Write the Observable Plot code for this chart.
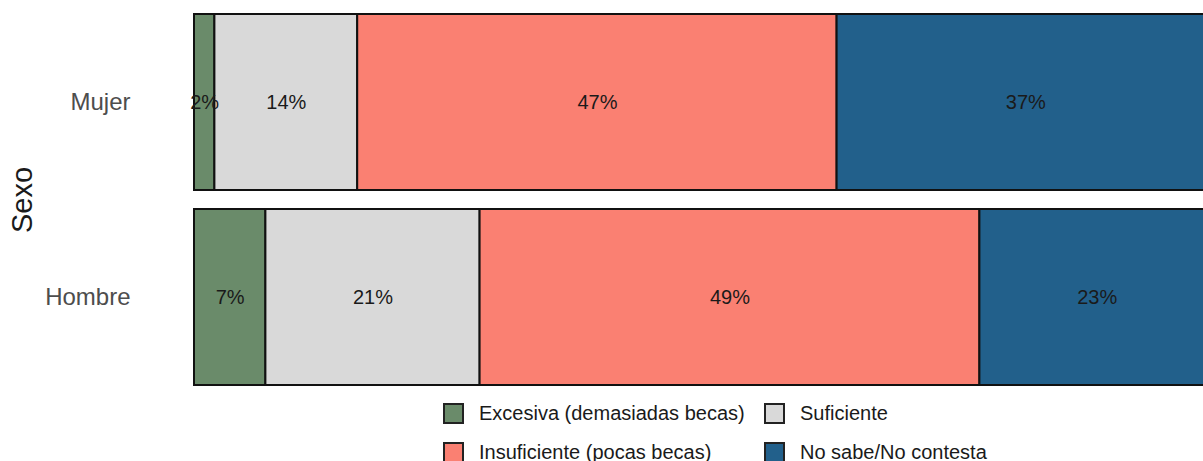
<!DOCTYPE html>
<html>
<head>
<meta charset="utf-8">
<script src="https://cdn.jsdelivr.net/npm/d3@7"></script>
<script src="https://cdn.jsdelivr.net/npm/@observablehq/plot@0.6"></script>
<style>
  html, body { margin: 0; padding: 0; overflow: hidden; background: #fff; width: 1203px; height: 461px; }
  #chart { width: 1220px; }
  #chart svg { display: block; max-width: none !important; }
  .legend { display: grid; grid-template-columns: 321px auto; row-gap: 17px; margin-left: 443px; margin-top: 2px;
            font-family: "Liberation Sans", Arial, sans-serif; font-size: 20px; color: #1a1a1a; }
  .item { display: flex; align-items: center; height: 22px; white-space: nowrap; }
  .sw { width: 17px; height: 17px; border: 2px solid #222; margin-right: 15px; box-sizing: content-box; }
</style>
</head>
<body>
<div id="chart"></div>
<div class="legend" id="legend"></div>
<script>
const sexos = ["Mujer", "Hombre"];
const categorias = ["Excesiva (demasiadas becas)", "Suficiente", "Insuficiente (pocas becas)", "No sabe/No contesta"];
const colores = ["#6a8b6a", "#d9d9d9", "#fa8072", "#22608b"];
const valoresMujer = [2, 14, 47, 37];
const valoresHombre = [7, 21, 49, 23];
const legendOrder = [0, 1, 2, 3];

const data = [];
sexos.forEach((s, i) => {
  const vals = i === 0 ? valoresMujer : valoresHombre;
  categorias.forEach((c, j) => data.push({sexo: s, cat: c, value: vals[j]}));
});

const font = '"Liberation Sans", Arial, sans-serif';
const plot = Plot.plot({
  width: 1220,
  height: 400,
  marginLeft: 194,
  marginRight: 6,
  marginTop: 14,
  marginBottom: 15,
  style: {fontFamily: font, background: "white", maxWidth: "none"},
  x: {domain: [0, 100], axis: null},
  y: {domain: sexos, paddingInner: 0.1, paddingOuter: 0, label: null},
  color: {domain: categorias, range: colores},
  marks: [
    Plot.barX(data, Plot.stackX({x: "value", y: "sexo", fill: "cat", stroke: "#111", strokeWidth: 2})),
    Plot.text(data, Plot.stackX({x: "value", y: "sexo", text: d => d.value + "%", fontSize: 20, fill: "#1a1a1a"})),
    Plot.axisY({tickSize: 0, tickPadding: 64, fontSize: 24, color: "#4d4d4d", label: null}),
    Plot.text(["Sexo"], {frameAnchor: "left", dx: -172, rotate: -90, textAnchor: "middle", fontSize: 29, fill: "#1a1a1a", text: d => d})
  ]
});
document.getElementById("chart").appendChild(plot);

const leg = document.getElementById("legend");
legendOrder.forEach(j => {
  const it = document.createElement("div");
  it.className = "item";
  const sw = document.createElement("span");
  sw.className = "sw";
  sw.style.background = colores[j];
  const tx = document.createElement("span");
  tx.textContent = categorias[j];
  it.appendChild(sw); it.appendChild(tx);
  leg.appendChild(it);
});
</script>
</body>
</html>
